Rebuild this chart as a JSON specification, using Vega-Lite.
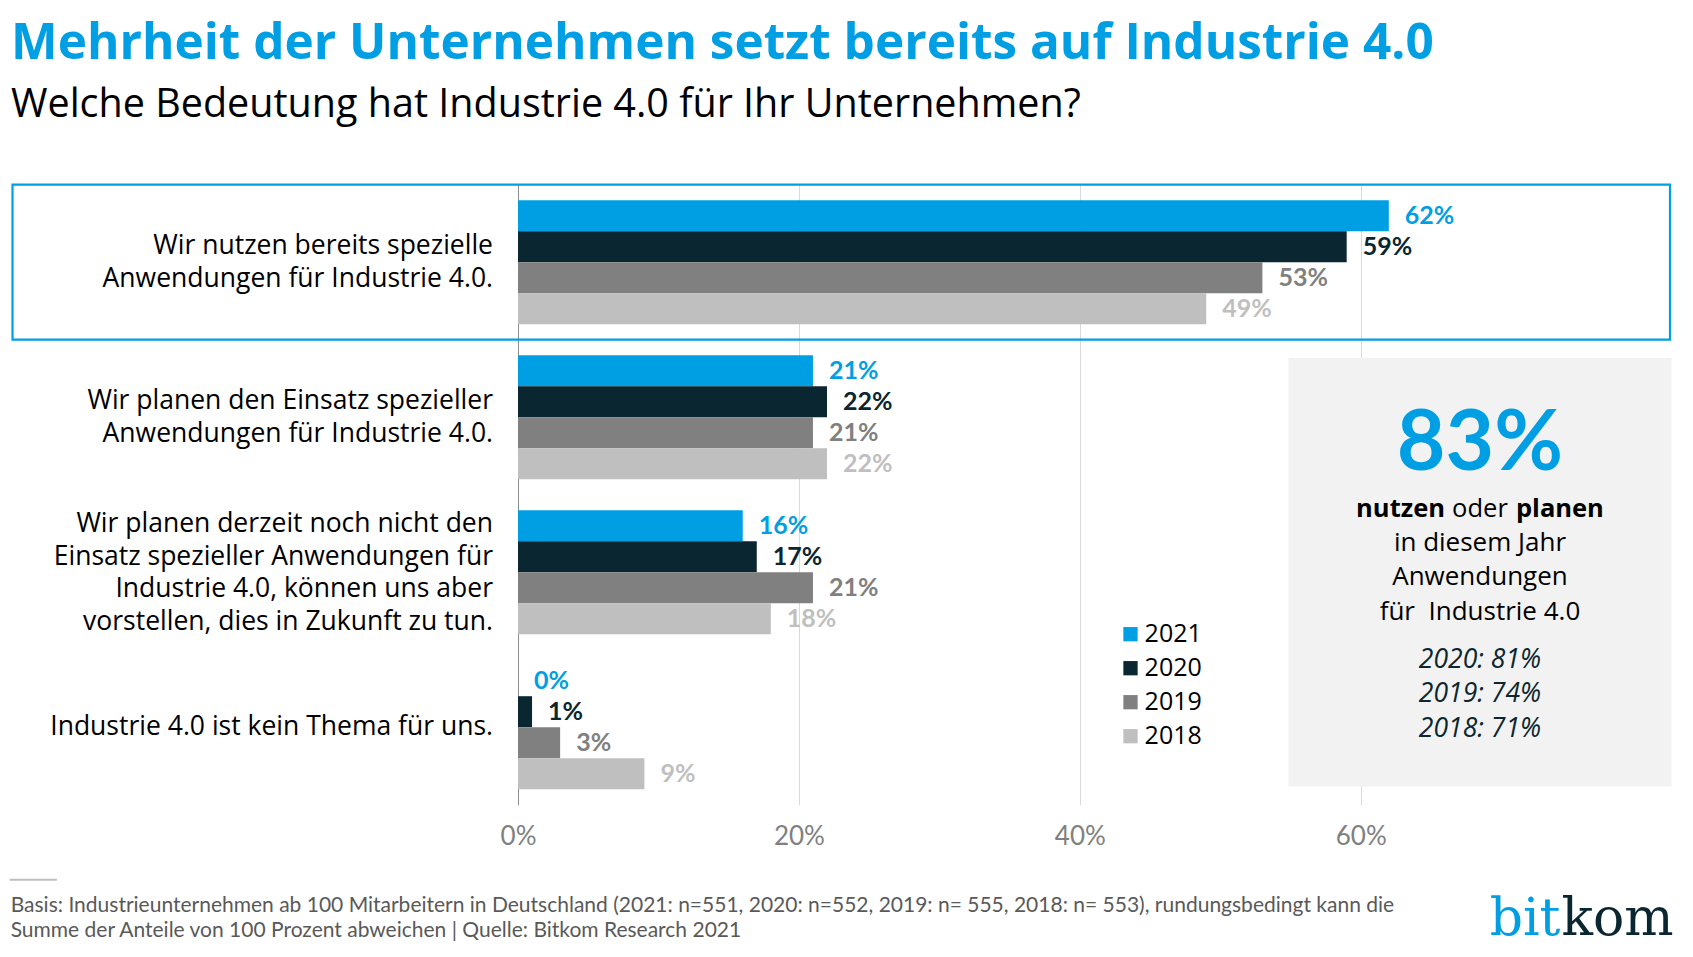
{
  "$schema": "https://vega.github.io/schema/vega-lite/v6.json",
  "width": 1152,
  "height": 620,
  "autosize": {"type": "none"},
  "padding": {"left": 518, "top": 184.7, "right": 23, "bottom": 152.3},
  "background": "#ffffff",
  "config": {"view": {"stroke": null}, "font": "Lato"},
  "title": {
    "text": "Mehrheit der Unternehmen setzt bereits auf Industrie 4.0",
    "subtitle": "Welche Bedeutung hat Industrie 4.0 für Ihr Unternehmen?",
    "anchor": "start",
    "frame": "group",
    "dx": -507,
    "offset": 58,
    "font": "Open Sans",
    "fontSize": 49.5,
    "fontWeight": "bold",
    "color": "#009FE3",
    "subtitleFont": "Open Sans",
    "subtitleFontSize": 39.5,
    "subtitleColor": "#000000",
    "subtitlePadding": 17
  },
  "datasets": {
    "main": [
      {"cat": "Wir nutzen bereits spezielle|Anwendungen für Industrie 4.0.", "year": "2021", "value": 0.62},
      {"cat": "Wir nutzen bereits spezielle|Anwendungen für Industrie 4.0.", "year": "2020", "value": 0.59},
      {"cat": "Wir nutzen bereits spezielle|Anwendungen für Industrie 4.0.", "year": "2019", "value": 0.53},
      {"cat": "Wir nutzen bereits spezielle|Anwendungen für Industrie 4.0.", "year": "2018", "value": 0.49},
      {"cat": "Wir planen den Einsatz spezieller|Anwendungen für Industrie 4.0.", "year": "2021", "value": 0.21},
      {"cat": "Wir planen den Einsatz spezieller|Anwendungen für Industrie 4.0.", "year": "2020", "value": 0.22},
      {"cat": "Wir planen den Einsatz spezieller|Anwendungen für Industrie 4.0.", "year": "2019", "value": 0.21},
      {"cat": "Wir planen den Einsatz spezieller|Anwendungen für Industrie 4.0.", "year": "2018", "value": 0.22},
      {"cat": "Wir planen derzeit noch nicht den|Einsatz spezieller Anwendungen für|Industrie 4.0, können uns aber|vorstellen, dies in Zukunft zu tun.", "year": "2021", "value": 0.16},
      {"cat": "Wir planen derzeit noch nicht den|Einsatz spezieller Anwendungen für|Industrie 4.0, können uns aber|vorstellen, dies in Zukunft zu tun.", "year": "2020", "value": 0.17},
      {"cat": "Wir planen derzeit noch nicht den|Einsatz spezieller Anwendungen für|Industrie 4.0, können uns aber|vorstellen, dies in Zukunft zu tun.", "year": "2019", "value": 0.21},
      {"cat": "Wir planen derzeit noch nicht den|Einsatz spezieller Anwendungen für|Industrie 4.0, können uns aber|vorstellen, dies in Zukunft zu tun.", "year": "2018", "value": 0.18},
      {"cat": "Industrie 4.0 ist kein Thema für uns.", "year": "2021", "value": 0.0},
      {"cat": "Industrie 4.0 ist kein Thema für uns.", "year": "2020", "value": 0.01},
      {"cat": "Industrie 4.0 ist kein Thema für uns.", "year": "2019", "value": 0.03},
      {"cat": "Industrie 4.0 ist kein Thema für uns.", "year": "2018", "value": 0.09}
    ]
  },
  "layer": [
    {
      "data": {"name": "main"},
      "mark": {"type": "bar"},
      "encoding": {
        "y": {
          "field": "cat", "type": "nominal",
          "scale": {
            "domain": [
              "Wir nutzen bereits spezielle|Anwendungen für Industrie 4.0.",
              "Wir planen den Einsatz spezieller|Anwendungen für Industrie 4.0.",
              "Wir planen derzeit noch nicht den|Einsatz spezieller Anwendungen für|Industrie 4.0, können uns aber|vorstellen, dies in Zukunft zu tun.",
              "Industrie 4.0 ist kein Thema für uns."
            ],
            "paddingInner": 0.2, "paddingOuter": 0.1
          },
          "axis": {
            "title": null, "ticks": false, "domain": true, "domainColor": "#8C8C8C", "domainWidth": 1,
            "labelFontSize": 26.5, "labelFont": "Open Sans", "labelColor": "#000000", "labelPadding": 25.5,
            "labelLineHeight": 32.5, "labelLimit": 600, "labelExpr": "split(datum.label, '|')", "grid": false,
            "labelOffset": {
              "condition": [
                {"test": "indexof(datum.label, '|') < 0", "value": 0},
                {"test": "length(split(datum.label, '|')) > 2", "value": -48}
              ],
              "value": -16
            }
          }
        },
        "yOffset": {
          "field": "year", "type": "nominal",
          "scale": {"domain": ["2021", "2020", "2019", "2018"], "paddingInner": 0, "paddingOuter": 0}
        },
        "x": {
          "field": "value", "type": "quantitative",
          "scale": {"domain": [0, 0.8202], "nice": false, "zero": false},
          "axis": {
            "title": null, "values": [0, 0.2, 0.4, 0.6], "format": ".0%", "grid": true, "gridColor": "#D9D9D9",
            "domain": false, "ticks": false, "labelFlush": false, "labelFontSize": 26, "labelFont": "Lato", "labelColor": "#808080", "labelPadding": 19
          }
        },
        "color": {
          "field": "year", "type": "nominal",
          "scale": {"domain": ["2021", "2020", "2019", "2018"], "range": ["#009FE3", "#0A2630", "#808080", "#BFBFBF"]},
          "legend": {
            "title": null, "orient": "none", "legendX": 600, "legendY": 437, "symbolType": "square",
            "symbolSize": 204, "symbolStrokeWidth": 0, "labelFontSize": 25, "labelFont": "Open Sans", "labelColor": "#000000",
            "rowPadding": 8, "labelOffset": 1.6, "padding": 0
          }
        }
      }
    },
    {
      "data": {"name": "main"},
      "mark": {"type": "text", "align": "left", "baseline": "middle", "dx": 16, "fontSize": 25, "fontWeight": "bold", "font": "Lato"},
      "encoding": {
        "y": {"field": "cat", "type": "nominal"},
        "yOffset": {"field": "year", "type": "nominal"},
        "x": {"field": "value", "type": "quantitative", "scale": {"domain": [0, 0.8202], "nice": false, "zero": false}},
        "text": {"field": "value", "type": "quantitative", "format": ".0%"},
        "color": {"field": "year", "type": "nominal"}
      }
    },
    {
      "data": {"values": [{"t": "box"}]},
      "mark": {"type": "bar", "height": {"band": 1.25}, "fill": "transparent", "stroke": "#009FE3", "strokeWidth": 2.2},
      "encoding": {
        "y": {"datum": "Wir nutzen bereits spezielle|Anwendungen für Industrie 4.0.", "type": "nominal"},
        "x": {"datum": -0.3599, "type": "quantitative", "scale": {"domain": [0, 0.8202], "nice": false, "zero": false}},
        "x2": {"datum": 0.8202}
      }
    },
    {
      "data": {"values": [{"t": "panel"}]},
      "mark": {"type": "bar", "height": {"band": 3.455}, "fill": "#F2F2F2"},
      "encoding": {
        "y": {"datum": "Wir planen derzeit noch nicht den|Einsatz spezieller Anwendungen für|Industrie 4.0, können uns aber|vorstellen, dies in Zukunft zu tun.", "type": "nominal"},
        "x": {"datum": 0.5485, "type": "quantitative", "scale": {"domain": [0, 0.8202], "nice": false, "zero": false}},
        "x2": {"datum": 0.8213}
      }
    },
    {
      "data": {"values": [{"t": "83%"}]},
      "mark": {"type": "text", "align": "center", "baseline": "alphabetic", "dy": 52.3, "fontSize": 84, "fontWeight": "bold", "font": "Lato", "color": "#009FE3"},
      "encoding": {
        "y": {"datum": "Wir planen den Einsatz spezieller|Anwendungen für Industrie 4.0.", "type": "nominal"},
        "x": {"datum": 0.6849, "type": "quantitative", "scale": {"domain": [0, 0.8202], "nice": false, "zero": false}},
        "text": {"field": "t"}
      }
    },
    {
      "data": {"values": [{"t": "nutzen"}]},
      "mark": {"type": "text", "align": "right", "baseline": "alphabetic", "dx": -35, "dy": 99.5, "fontSize": 25.5, "fontWeight": "bold", "font": "Open Sans", "color": "#000000"},
      "encoding": {
        "y": {"datum": "Wir planen den Einsatz spezieller|Anwendungen für Industrie 4.0.", "type": "nominal"},
        "x": {"datum": 0.6849, "type": "quantitative", "scale": {"domain": [0, 0.8202], "nice": false, "zero": false}},
        "text": {"field": "t"}
      }
    },
    {
      "data": {"values": [{"t": "oder"}]},
      "mark": {"type": "text", "align": "center", "baseline": "alphabetic", "dy": 99.5, "fontSize": 25.5, "font": "Open Sans", "color": "#000000"},
      "encoding": {
        "y": {"datum": "Wir planen den Einsatz spezieller|Anwendungen für Industrie 4.0.", "type": "nominal"},
        "x": {"datum": 0.6849, "type": "quantitative", "scale": {"domain": [0, 0.8202], "nice": false, "zero": false}},
        "text": {"field": "t"}
      }
    },
    {
      "data": {"values": [{"t": "planen"}]},
      "mark": {"type": "text", "align": "left", "baseline": "alphabetic", "dx": 36, "dy": 99.5, "fontSize": 25.5, "fontWeight": "bold", "font": "Open Sans", "color": "#000000"},
      "encoding": {
        "y": {"datum": "Wir planen den Einsatz spezieller|Anwendungen für Industrie 4.0.", "type": "nominal"},
        "x": {"datum": 0.6849, "type": "quantitative", "scale": {"domain": [0, 0.8202], "nice": false, "zero": false}},
        "text": {"field": "t"}
      }
    },
    {
      "data": {"values": [{"t": "in diesem Jahr\nAnwendungen\nfür \u00a0Industrie 4.0"}]},
      "mark": {"type": "text", "align": "center", "baseline": "alphabetic", "dy": 133.8, "lineBreak": "\n", "lineHeight": 34.3, "fontSize": 26, "font": "Open Sans", "color": "#000000"},
      "encoding": {
        "y": {"datum": "Wir planen den Einsatz spezieller|Anwendungen für Industrie 4.0.", "type": "nominal"},
        "x": {"datum": 0.6849, "type": "quantitative", "scale": {"domain": [0, 0.8202], "nice": false, "zero": false}},
        "text": {"field": "t"}
      }
    },
    {
      "data": {"values": [{"t": "2020: 81%\n2019: 74%\n2018: 71%"}]},
      "mark": {"type": "text", "align": "center", "baseline": "alphabetic", "dy": 251.1, "lineBreak": "\n", "lineHeight": 34.2, "fontSize": 26.5, "fontStyle": "italic", "font": "Open Sans", "color": "#0A2630"},
      "encoding": {
        "y": {"datum": "Wir planen den Einsatz spezieller|Anwendungen für Industrie 4.0.", "type": "nominal"},
        "x": {"datum": 0.6849, "type": "quantitative", "scale": {"domain": [0, 0.8202], "nice": false, "zero": false}},
        "text": {"field": "t"}
      }
    },
    {
      "data": {"values": [{"t": "Basis: Industrieunternehmen ab 100 Mitarbeitern in Deutschland (2021: n=551, 2020: n=552, 2019: n= 555, 2018: n= 553), rundungsbedingt kann die\nSumme der Anteile von 100 Prozent abweichen | Quelle: Bitkom Research 2021"}]},
      "mark": {"type": "text", "align": "left", "baseline": "alphabetic", "dy": 184.5, "lineBreak": "\n", "lineHeight": 25, "fontSize": 21, "font": "Lato", "color": "#595959"},
      "encoding": {
        "y": {"datum": "Industrie 4.0 ist kein Thema für uns.", "type": "nominal"},
        "x": {"datum": -0.3612, "type": "quantitative", "scale": {"domain": [0, 0.8202], "nice": false, "zero": false}},
        "text": {"field": "t"}
      }
    },
    {
      "data": {"values": [{"t": "kom"}]},
      "mark": {"type": "text", "align": "right", "baseline": "alphabetic", "dy": 207.8, "fontSize": 52, "font": "DejaVu Serif", "color": "#0A2630"},
      "encoding": {
        "y": {"datum": "Industrie 4.0 ist kein Thema für uns.", "type": "nominal"},
        "x": {"datum": 0.8227, "type": "quantitative", "scale": {"domain": [0, 0.8202], "nice": false, "zero": false}},
        "text": {"field": "t"}
      }
    },
    {
      "data": {"values": [{"t": "bit"}]},
      "mark": {"type": "text", "align": "right", "baseline": "alphabetic", "dx": -113, "dy": 207.8, "fontSize": 52, "font": "DejaVu Serif", "color": "#009FE3"},
      "encoding": {
        "y": {"datum": "Industrie 4.0 ist kein Thema für uns.", "type": "nominal"},
        "x": {"datum": 0.8227, "type": "quantitative", "scale": {"domain": [0, 0.8202], "nice": false, "zero": false}},
        "text": {"field": "t"}
      }
    },
    {
      "data": {"values": [{"cat": "Industrie 4.0 ist kein Thema für uns."}]},
      "mark": {"type": "rule", "stroke": "#BFBFBF", "strokeWidth": 2},
      "encoding": {
        "y": {"field": "cat", "type": "nominal", "bandPosition": 1.73},
        "x": {"datum": -0.3620, "type": "quantitative", "scale": {"domain": [0, 0.8202], "nice": false, "zero": false}},
        "x2": {"datum": -0.3283}
      }
    }
  ]
}
